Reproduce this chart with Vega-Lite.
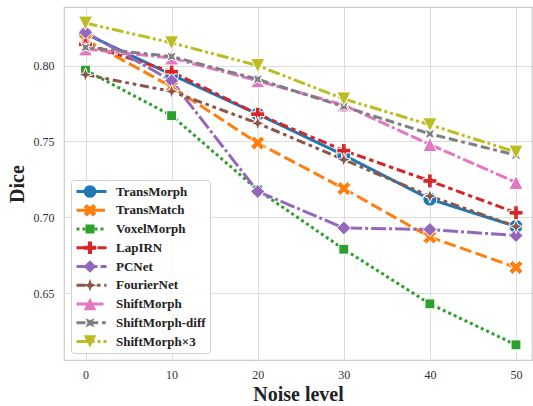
{
  "$schema": "https://vega.github.io/schema/vega-lite/v6.json",
  "autosize": {"type": "none"},
  "width": 468,
  "height": 353,
  "padding": {"left": 64, "top": 7, "right": 1, "bottom": 46},
  "background": "white",
  "config": {
    "font": "Liberation Serif",
    "view": {"stroke": "#cccccc", "strokeWidth": 1.25},
    "axis": {
      "domain": false,
      "ticks": false,
      "grid": true,
      "gridColor": "#dcdcdc",
      "gridWidth": 1,
      "labelFont": "Liberation Serif",
      "labelFontSize": 12,
      "labelColor": "#333333",
      "titleFont": "Liberation Serif",
      "titleFontSize": 20,
      "titleFontWeight": "bold",
      "titleColor": "#222222"
    }
  },
  "data": {
    "values": [
      {"model": "TransMorph", "noise": 0, "dice": 0.821},
      {"model": "TransMorph", "noise": 10, "dice": 0.794},
      {"model": "TransMorph", "noise": 20, "dice": 0.768},
      {"model": "TransMorph", "noise": 30, "dice": 0.741},
      {"model": "TransMorph", "noise": 40, "dice": 0.712},
      {"model": "TransMorph", "noise": 50, "dice": 0.694},
      {"model": "TransMatch", "noise": 0, "dice": 0.817},
      {"model": "TransMatch", "noise": 10, "dice": 0.786},
      {"model": "TransMatch", "noise": 20, "dice": 0.749},
      {"model": "TransMatch", "noise": 30, "dice": 0.719},
      {"model": "TransMatch", "noise": 40, "dice": 0.687},
      {"model": "TransMatch", "noise": 50, "dice": 0.667},
      {"model": "VoxelMorph", "noise": 0, "dice": 0.797},
      {"model": "VoxelMorph", "noise": 10, "dice": 0.767},
      {"model": "VoxelMorph", "noise": 20, "dice": 0.718},
      {"model": "VoxelMorph", "noise": 30, "dice": 0.679},
      {"model": "VoxelMorph", "noise": 40, "dice": 0.643},
      {"model": "VoxelMorph", "noise": 50, "dice": 0.616},
      {"model": "LapIRN", "noise": 0, "dice": 0.814},
      {"model": "LapIRN", "noise": 10, "dice": 0.796},
      {"model": "LapIRN", "noise": 20, "dice": 0.768},
      {"model": "LapIRN", "noise": 30, "dice": 0.744},
      {"model": "LapIRN", "noise": 40, "dice": 0.724},
      {"model": "LapIRN", "noise": 50, "dice": 0.703},
      {"model": "PCNet", "noise": 0, "dice": 0.822},
      {"model": "PCNet", "noise": 10, "dice": 0.790},
      {"model": "PCNet", "noise": 20, "dice": 0.717},
      {"model": "PCNet", "noise": 30, "dice": 0.693},
      {"model": "PCNet", "noise": 40, "dice": 0.692},
      {"model": "PCNet", "noise": 50, "dice": 0.688},
      {"model": "FourierNet", "noise": 0, "dice": 0.794},
      {"model": "FourierNet", "noise": 10, "dice": 0.783},
      {"model": "FourierNet", "noise": 20, "dice": 0.762},
      {"model": "FourierNet", "noise": 30, "dice": 0.738},
      {"model": "FourierNet", "noise": 40, "dice": 0.714},
      {"model": "FourierNet", "noise": 50, "dice": 0.694},
      {"model": "ShiftMorph", "noise": 0, "dice": 0.811},
      {"model": "ShiftMorph", "noise": 10, "dice": 0.805},
      {"model": "ShiftMorph", "noise": 20, "dice": 0.790},
      {"model": "ShiftMorph", "noise": 30, "dice": 0.774},
      {"model": "ShiftMorph", "noise": 40, "dice": 0.748},
      {"model": "ShiftMorph", "noise": 50, "dice": 0.723},
      {"model": "ShiftMorph-diff", "noise": 0, "dice": 0.812},
      {"model": "ShiftMorph-diff", "noise": 10, "dice": 0.806},
      {"model": "ShiftMorph-diff", "noise": 20, "dice": 0.791},
      {"model": "ShiftMorph-diff", "noise": 30, "dice": 0.773},
      {"model": "ShiftMorph-diff", "noise": 40, "dice": 0.755},
      {"model": "ShiftMorph-diff", "noise": 50, "dice": 0.741},
      {"model": "ShiftMorph×3", "noise": 0, "dice": 0.828},
      {"model": "ShiftMorph×3", "noise": 10, "dice": 0.815},
      {"model": "ShiftMorph×3", "noise": 20, "dice": 0.800},
      {"model": "ShiftMorph×3", "noise": 30, "dice": 0.778},
      {"model": "ShiftMorph×3", "noise": 40, "dice": 0.761},
      {"model": "ShiftMorph×3", "noise": 50, "dice": 0.743}
    ]
  },
  "encoding": {
    "x": {
      "field": "noise", "type": "quantitative",
      "scale": {"domain": [-2.5, 51.86], "nice": false, "zero": false},
      "axis": {"values": [0, 10, 20, 30, 40, 50], "title": "Noise level", "labelPadding": 9, "titlePadding": 4, "labelFlush": false}
    },
    "y": {
      "field": "dice", "type": "quantitative",
      "scale": {"domain": [0.606, 0.8386], "nice": false, "zero": false},
      "axis": {"values": [0.65, 0.70, 0.75, 0.80], "format": ".2f", "title": "Dice", "labelPadding": 10, "titlePadding": 6}
    }
  },
  "layer": [
    {
      "mark": {"type": "line", "strokeWidth": 3},
      "encoding": {
        "color": {
          "field": "model", "type": "nominal",
          "scale": {
            "domain": ["TransMorph", "TransMatch", "VoxelMorph", "LapIRN", "PCNet", "FourierNet", "ShiftMorph", "ShiftMorph-diff", "ShiftMorph×3"],
            "range": ["#1f77b4", "#ff7f0e", "#2ca02c", "#d62728", "#9467bd", "#8c564b", "#e377c2", "#7f7f7f", "#bcbd22"]
          },
          "legend": {"orient": "none", "legendX": 7, "legendY": 173, "title": null, "symbolType": "stroke", "symbolSize": 900, "symbolStrokeWidth": 3, "labelFont": "Liberation Serif", "labelFontSize": 13, "labelFontWeight": "bold", "labelColor": "#222222", "fillColor": "rgba(255,255,255,0.85)", "strokeColor": "#d0d0d0", "cornerRadius": 3, "padding": 4, "rowPadding": 3.75, "clipHeight": 15, "labelOffset": 8}
        },
        "strokeDash": {
          "field": "model", "type": "nominal",
          "scale": {
            "domain": ["TransMorph", "TransMatch", "VoxelMorph", "LapIRN", "PCNet", "FourierNet", "ShiftMorph", "ShiftMorph-diff", "ShiftMorph×3"],
            "range": [[1, 0], [12, 4.5], [3, 3], [9, 3.75, 4.5, 3.75], [15, 3, 3, 3], [9, 3.75, 3.75, 3.75, 3.75, 3.75], [12, 3, 12, 3, 3, 3], [9, 3.75, 9, 3.75, 3.75, 3.75], [12, 3, 3, 3, 3, 3]]
          },
          "legend": {"orient": "none", "legendX": 7, "legendY": 173, "title": null, "symbolType": "stroke", "symbolSize": 900, "symbolStrokeWidth": 3, "labelFont": "Liberation Serif", "labelFontSize": 13, "labelFontWeight": "bold", "labelColor": "#222222", "fillColor": "rgba(255,255,255,0.85)", "strokeColor": "#d0d0d0", "cornerRadius": 3, "padding": 4, "rowPadding": 3.75, "clipHeight": 15, "labelOffset": 8}
        }
      }
    },
    {
      "mark": {"type": "point", "filled": true, "opacity": 1, "size": 196, "stroke": "white", "strokeWidth": 1},
      "encoding": {
        "color": {
          "field": "model", "type": "nominal",
          "scale": {
            "domain": ["TransMorph", "TransMatch", "VoxelMorph", "LapIRN", "PCNet", "FourierNet", "ShiftMorph", "ShiftMorph-diff", "ShiftMorph×3"],
            "range": ["#1f77b4", "#ff7f0e", "#2ca02c", "#d62728", "#9467bd", "#8c564b", "#e377c2", "#7f7f7f", "#bcbd22"]
          },
          "legend": {"orient": "none", "legendX": 7, "legendY": 173, "title": null, "symbolSize": 160, "symbolStrokeColor": "white", "symbolStrokeWidth": 1, "symbolOpacity": 1, "symbolOffset": 8, "labelExpr": "''", "labelFontSize": 13, "fillColor": "transparent", "strokeColor": "transparent", "padding": 4, "rowPadding": 3.75, "clipHeight": 15, "labelOffset": 8}
        },
        "shape": {
          "field": "model", "type": "nominal",
          "scale": {
            "domain": ["TransMorph", "TransMatch", "VoxelMorph", "LapIRN", "PCNet", "FourierNet", "ShiftMorph", "ShiftMorph-diff", "ShiftMorph×3"],
            "range": [
              "circle",
              "M-0.5,-1L0,-0.5L0.5,-1L1,-0.5L0.5,0L1,0.5L0.5,1L0,0.5L-0.5,1L-1,0.5L-0.5,0L-1,-0.5Z",
              "M-0.707,-0.707L0.707,-0.707L0.707,0.707L-0.707,0.707Z",
              "M-1,-0.333L-0.333,-0.333L-0.333,-1L0.333,-1L0.333,-0.333L1,-0.333L1,0.333L0.333,0.333L0.333,1L-0.333,1L-0.333,0.333L-1,0.333Z",
              "M0,-1L1,0L0,1L-1,0Z",
              "M0,-1L0.27,-0.27L1,0L0.27,0.27L0,1L-0.27,0.27L-1,0L-0.27,-0.27Z",
              "M0,-1L-1,1L1,1Z",
              "M-0.707,-0.707L0,-0.382L0.707,-0.707L0.382,0L0.707,0.707L0,0.382L-0.707,0.707L-0.382,0Z",
              "M0,1L-1,-1L1,-1Z"
            ]
          },
          "legend": {"orient": "none", "legendX": 7, "legendY": 173, "title": null, "symbolSize": 160, "symbolStrokeColor": "white", "symbolStrokeWidth": 1, "symbolOpacity": 1, "symbolOffset": 8, "labelExpr": "''", "labelFontSize": 13, "fillColor": "transparent", "strokeColor": "transparent", "padding": 4, "rowPadding": 3.75, "clipHeight": 15, "labelOffset": 8}
        }
      }
    }
  ],
  "resolve": {
    "scale": {"color": "independent", "shape": "independent", "strokeDash": "independent"},
    "legend": {"color": "independent", "shape": "independent", "strokeDash": "independent"}
  }
}
